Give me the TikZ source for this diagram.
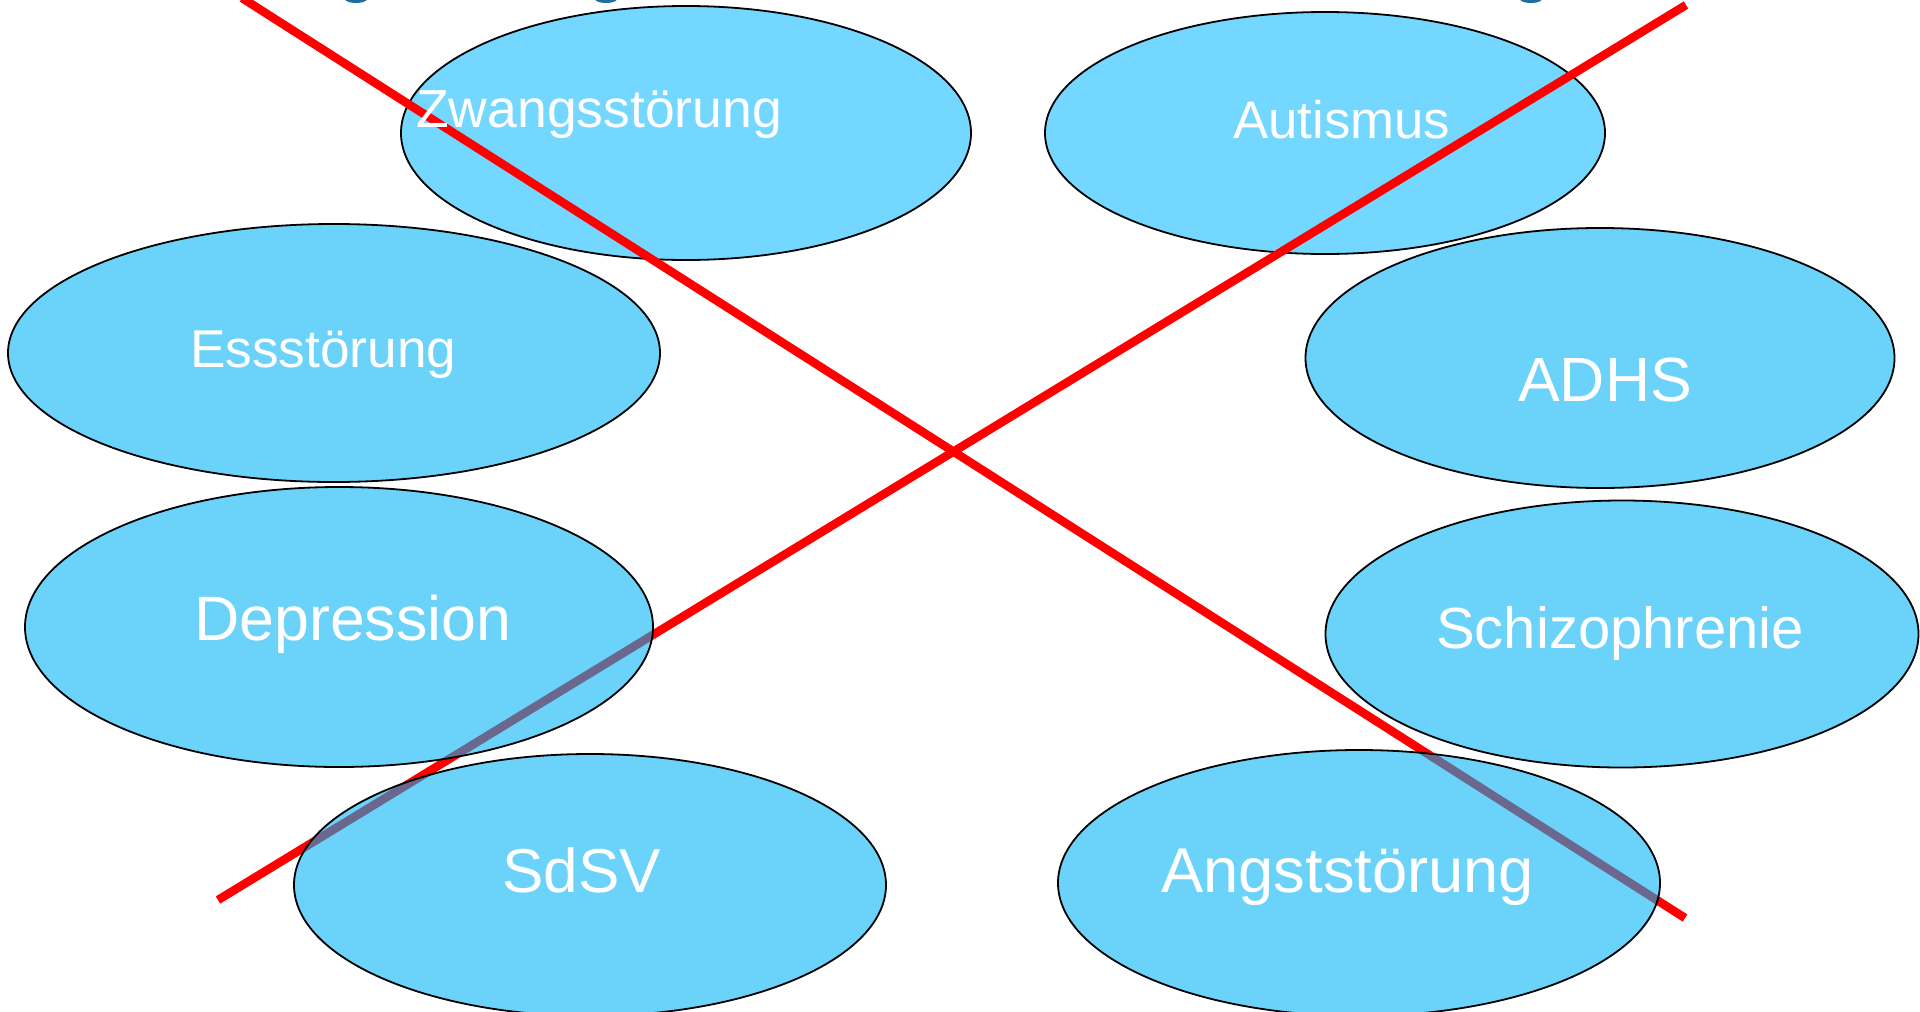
\documentclass[tikz,border=0pt]{standalone}
\usepackage{fontspec}
\setmainfont{Liberation Sans}
\usetikzlibrary{shapes.geometric}
\definecolor{topfill}{RGB}{115,215,255}
\definecolor{lowfill}{RGB}{0,180,248}
\definecolor{xred}{RGB}{255,0,0}
\definecolor{dotblue}{RGB}{31,110,158}
\tikzset{
  ellbase/.style={ellipse, draw=black, line width=1.8pt, inner sep=0pt},
  topell/.style={ellbase, fill=topfill},
  lowell/.style={ellbase, fill=lowfill, fill opacity=0.58},
  lbl/.style={anchor=base west, text=white, inner sep=0pt, font=\fontsize{#1}{#1}\selectfont},
  xline/.style={draw=xred, line width=8.5pt},
}
\begin{document}
\begin{tikzpicture}[x=1pt,y=-1pt]
\useasboundingbox (0,0) rectangle (1920,1012);
\clip (0,0) rectangle (1920,1012);
\fill[white] (0,0) rectangle (1920,1012);
% cut-off fragments at the top edge
\fill[dotblue] (356,-1) ellipse [x radius=11, y radius=4];
\fill[dotblue] (606,-1) ellipse [x radius=11, y radius=4];
\fill[dotblue] (1531,-1) ellipse [x radius=11, y radius=4];
% ellipses beneath the cross
\node[topell, minimum width=570pt, minimum height=254pt] (zw) at (686,133) {};
\node[topell, minimum width=560pt, minimum height=242pt] (au) at (1325,133) {};
% the cross
\coordinate (l1a) at (242,-2);
\coordinate (l1b) at (1685,918);
\coordinate (l2a) at (218,900);
\coordinate (l2b) at (1686,5);
\draw[xline] (l1a) -- (l1b);
\draw[xline] (l2a) -- (l2b);
% ellipses above the cross (translucent)
\node[lowell, minimum width=652pt, minimum height=258pt] (es) at (334,353) {};
\node[lowell, minimum width=589pt, minimum height=260pt] (ad) at (1600,358) {};
\node[lowell, minimum width=628pt, minimum height=280pt] (de) at (339,627) {};
\node[lowell, minimum width=593pt, minimum height=267pt] (sc) at (1622,634) {};
\node[lowell, minimum width=592pt, minimum height=262pt] (sd) at (590,885) {};
\node[lowell, minimum width=602pt, minimum height=266pt] (an) at (1359,883) {};
% labels
\node[lbl=53.5] (zwt) at (416,127) {Zwangsstörung};
\node[lbl=52.8] (aut) at (1233,138) {Autismus};
\node[lbl=53.2] (est) at (190,367) {Essstörung};
\node[lbl=62.5] (adt) at (1518,401) {ADHS};
\node[lbl=62.7] (det) at (194,640) {Depression};
\node[lbl=58] (sct) at (1436,648) {Schizophrenie};
\node[lbl=62] (sdt) at (502,892) {SdSV};
\node[lbl=63.3] (ant) at (1161,892) {Angststörung};
\end{tikzpicture}
\end{document}
